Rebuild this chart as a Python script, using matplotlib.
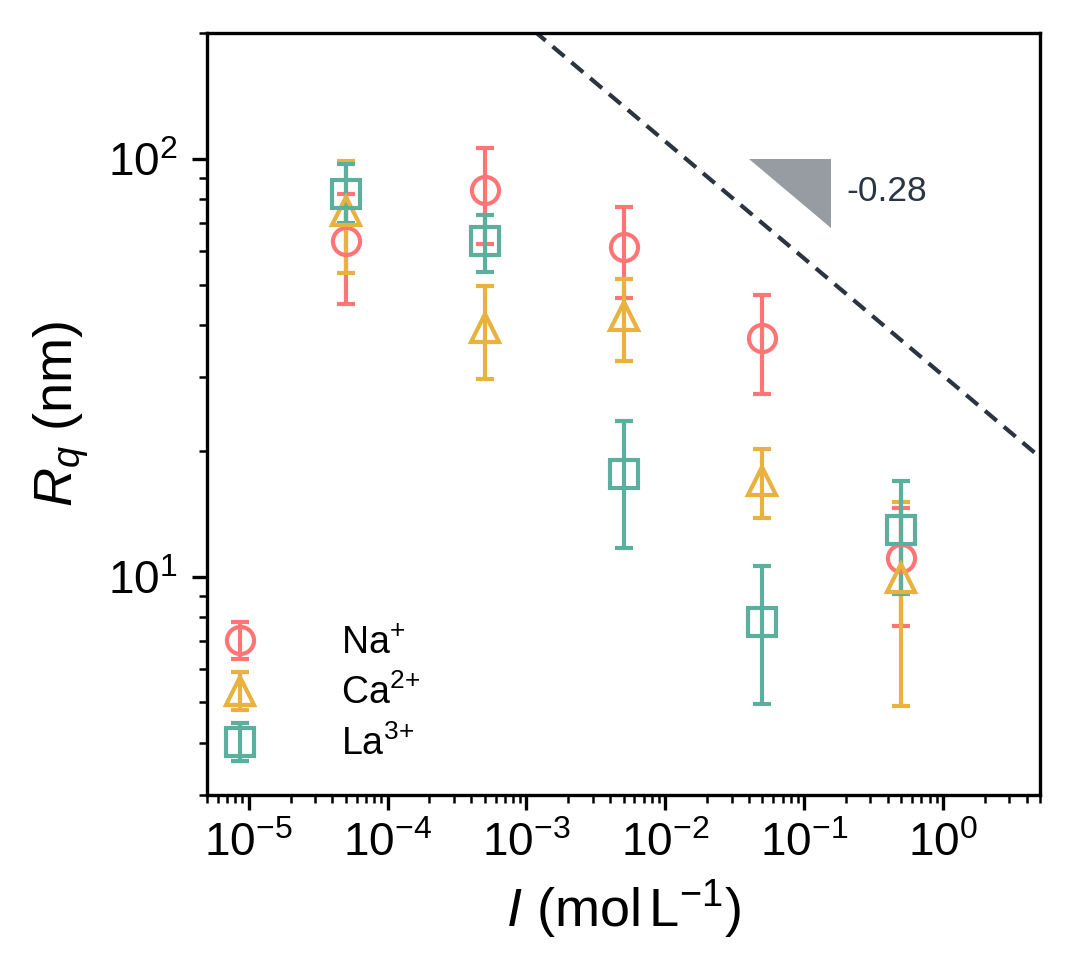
import numpy as np
import matplotlib
matplotlib.use("Agg")
import matplotlib.pyplot as plt

plt.rcParams['font.family'] = ['Liberation Sans', 'DejaVu Sans']
plt.rcParams['mathtext.fontset'] = 'custom'
plt.rcParams['mathtext.rm'] = 'Liberation Sans'
plt.rcParams['mathtext.it'] = 'Liberation Sans:italic'
plt.rcParams['mathtext.bf'] = 'Liberation Sans:bold'

# ---- data ----
ionic_strength = [5e-5, 5e-4, 5e-3, 5e-2, 5e-1]

na_val  = [63.4, 84.2, 61.6, 37.3, 11.1]
na_low  = [44.8, 62.5, 46.3, 27.4, 7.6]
na_high = [82.5, 106.0, 76.5, 47.1, 14.6]

ca_val  = [75.0, 39.3, 42.1, 16.9, 9.9]
ca_low  = [53.4, 29.7, 32.8, 13.8, 4.9]
ca_high = [99.0, 49.5, 51.6, 20.2, 15.1]

la_val  = [82.4, 63.5, 17.6, 7.8, 12.9]
la_low  = [70.0, 53.7, 11.7, 4.95, 9.1]
la_high = [97.4, 73.4, 23.6, 10.6, 16.9]

series_labels = [r'Na$^{+}$', r'Ca$^{2\!+}$', r'La$^{3\!+}$']
series_colors = ['#FF7575', '#E9B13E', '#5AB09D']
series_markers = ['o', '^', 's']

slope = -0.28
slope_prefactor = 30.3
slope_label = '-0.28'
tri_x = [0.04, 0.155]
tri_y_top = 100.0

fig = plt.figure(figsize=(1072/300, 980/300), dpi=300)
ax = fig.add_axes([207/1072, 1-795/980, (1040-207)/1072, (795-33)/980])
ax.set_xscale('log')
ax.set_yscale('log')
ax.set_xlim(5e-6, 5)
ax.set_ylim(3, 200)

data = [(na_val, na_low, na_high), (ca_val, ca_low, ca_high), (la_val, la_low, la_high)]
x = np.array(ionic_strength)
for (v, lo, hi), lab, c, m in zip(data, series_labels, series_colors, series_markers):
    v = np.array(v); lo = np.array(lo); hi = np.array(hi)
    ax.errorbar(x, v, yerr=[v - lo, hi - v], fmt=m, ms=6.5, mfc='none', mec=c, mew=1.0,
                ecolor=c, elinewidth=1.0, capsize=2.2, capthick=1.0, color=c, label=lab)

# guide line
xx = np.logspace(np.log10(5e-6), np.log10(5), 200)
ax.plot(xx, slope_prefactor * xx**slope, ls='--', color='#2B3541', lw=1.0, dashes=(3.7, 2.2))

# slope triangle
y_bot = tri_y_top * (tri_x[1] / tri_x[0])**slope
ax.fill([tri_x[0], tri_x[1], tri_x[1]], [tri_y_top, tri_y_top, y_bot], color='#979CA3', lw=0)
ax.text(0.2, 83.5, slope_label, fontsize=8.5, color='#2B3541', va='center', ha='left')

ax.set_xlabel(r'$I$ (mol$\,$L$^{-1}$)', fontsize=13, labelpad=3)
ax.set_ylabel(r'$R_q$ (nm)', fontsize=13, labelpad=4)

for s in ax.spines.values():
    s.set_linewidth(0.8)
ax.tick_params(which='major', length=3.5, width=0.8, labelsize=11, direction='out')
ax.tick_params(which='minor', length=2, width=0.6, direction='out')
ax.tick_params(axis='x', which='major', pad=3)

leg = ax.legend(loc='lower left', bbox_to_anchor=(-0.006, 0.042), frameon=False,
                fontsize=9, handlelength=2.0, handletextpad=1.7, labelspacing=0.35,
                borderpad=0, borderaxespad=0)

fig.savefig('out.png', dpi=300)
